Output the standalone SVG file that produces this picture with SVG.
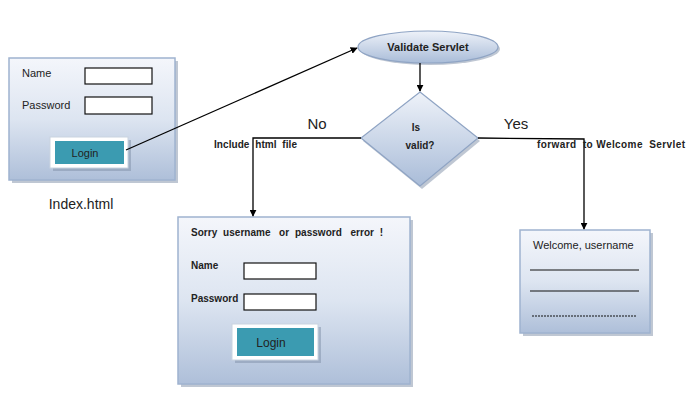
<svg xmlns="http://www.w3.org/2000/svg" width="698" height="408" viewBox="0 0 698 408">
<defs>
<linearGradient id="g" x1="0" y1="0" x2="0" y2="1">
<stop offset="0" stop-color="#f4f6fb"/>
<stop offset="0.5" stop-color="#dde5f1"/>
<stop offset="1" stop-color="#aebfd9"/>
</linearGradient>
<linearGradient id="ge" x1="0" y1="0" x2="0" y2="1">
<stop offset="0" stop-color="#eef2f9"/>
<stop offset="1" stop-color="#a9bcd8"/>
</linearGradient>
<marker id="ah" viewBox="0 0 10 10" refX="9" refY="5" markerWidth="7" markerHeight="7" orient="auto" markerUnits="userSpaceOnUse">
<path d="M0,0 L10,5 L0,10 z" fill="#000"/>
</marker>
</defs>
<style>
text{font-family:"Liberation Sans",Arial,sans-serif;fill:#222;white-space:pre}
.panel{fill:url(#g);stroke:#9fb3cf;stroke-width:1.5}
.shadow{fill:#7f8fa8;opacity:0.5}
.inp{fill:#fff;stroke:#111;stroke-width:1.2}
.btnout{fill:#fff;stroke:#c9d3e0;stroke-width:1}
.btn{fill:#3b9bb1}
.lbl{font-size:11px}
.b{font-size:10px;font-weight:bold}
.con{fill:none;stroke:#000;stroke-width:1.3}
</style>
<rect width="698" height="408" fill="#fff"/>
<g id="index">
<rect class="shadow" x="12" y="61" width="166" height="122"/>
<rect class="panel" x="9" y="58" width="166" height="122"/>
<text x="22" y="77" class="lbl">Name</text>
<rect class="inp" x="85" y="68" width="67" height="16"/>
<text x="22" y="109" class="lbl">Password</text>
<rect class="inp" x="85" y="97" width="67" height="17"/>
<rect class="shadow" x="53" y="140" width="78" height="31"/>
<rect class="btnout" x="50" y="137" width="78" height="31"/>
<rect class="btn" x="55" y="141" width="69" height="23"/>
<text x="85" y="157" font-size="11" text-anchor="middle">Login</text>
<text x="81" y="209" font-size="14" text-anchor="middle">Index.html</text>
</g>
<g id="validate">
<ellipse cx="430" cy="49" rx="70" ry="16" fill="#7f8fa8" opacity="0.5"/>
<ellipse cx="428" cy="47" rx="70" ry="16" fill="url(#ge)" stroke="#8fa4c4" stroke-width="1.2"/>
<text x="428" y="51" font-size="11" font-weight="bold" text-anchor="middle">Validate Servlet</text>
</g>
<g id="isvalid">
<polygon points="422,95 480,141 422,189 363,141" fill="#7f8fa8" opacity="0.5"/>
<polygon points="420,92 478,138 420,186 361,138" fill="url(#ge)" stroke="#8fa4c4" stroke-width="1.2"/>
<text x="416" y="131" font-size="10" font-weight="bold" text-anchor="middle">Is</text>
<text x="420" y="149" font-size="10" font-weight="bold" text-anchor="middle">valid?</text>
</g>
<g id="error">
<rect class="shadow" x="181" y="220" width="232" height="167"/>
<rect class="panel" x="178" y="217" width="232" height="167"/>
<text x="191" y="236" class="b" textLength="192" lengthAdjust="spacing">Sorry  username   or  password   error  !</text>
<text x="191" y="269" class="b">Name</text>
<rect class="inp" x="244" y="263" width="72" height="16"/>
<text x="191" y="302" class="b">Password</text>
<rect class="inp" x="244" y="294" width="72" height="16"/>
<rect class="shadow" x="235" y="327" width="86" height="36"/>
<rect class="btnout" x="232" y="324" width="86" height="36"/>
<rect class="btn" x="237" y="328" width="77" height="28"/>
<text x="271" y="347" font-size="12" text-anchor="middle">Login</text>
</g>
<g id="welcome">
<rect class="shadow" x="523" y="233" width="130" height="103"/>
<rect class="panel" x="520" y="230" width="130" height="103"/>
<text x="533" y="249" font-size="11">Welcome, username</text>
<line x1="530" y1="270" x2="639" y2="270" stroke="#111" stroke-width="1"/>
<line x1="530" y1="291" x2="639" y2="291" stroke="#111" stroke-width="1"/>
<line x1="532" y1="316" x2="637" y2="316" stroke="#111" stroke-width="1" stroke-dasharray="2,1"/>
</g>
<g id="connectors">
<line class="con" x1="126" y1="150" x2="357" y2="48" marker-end="url(#ah)"/>
<line class="con" x1="420" y1="63" x2="420" y2="91" marker-end="url(#ah)"/>
<polyline class="con" points="361,138 253,138 253,216" marker-end="url(#ah)"/>
<polyline class="con" points="478,138 584,139 584,229" marker-end="url(#ah)"/>
<text x="317" y="129" font-size="15" text-anchor="middle">No</text>
<text x="214" y="148" class="b" textLength="83" lengthAdjust="spacing">Include  html  file</text>
<text x="516" y="129" font-size="15" text-anchor="middle">Yes</text>
<text x="537" y="148" class="b" textLength="148" lengthAdjust="spacing">forward  to Welcome  Servlet</text>
</g>
</svg>
